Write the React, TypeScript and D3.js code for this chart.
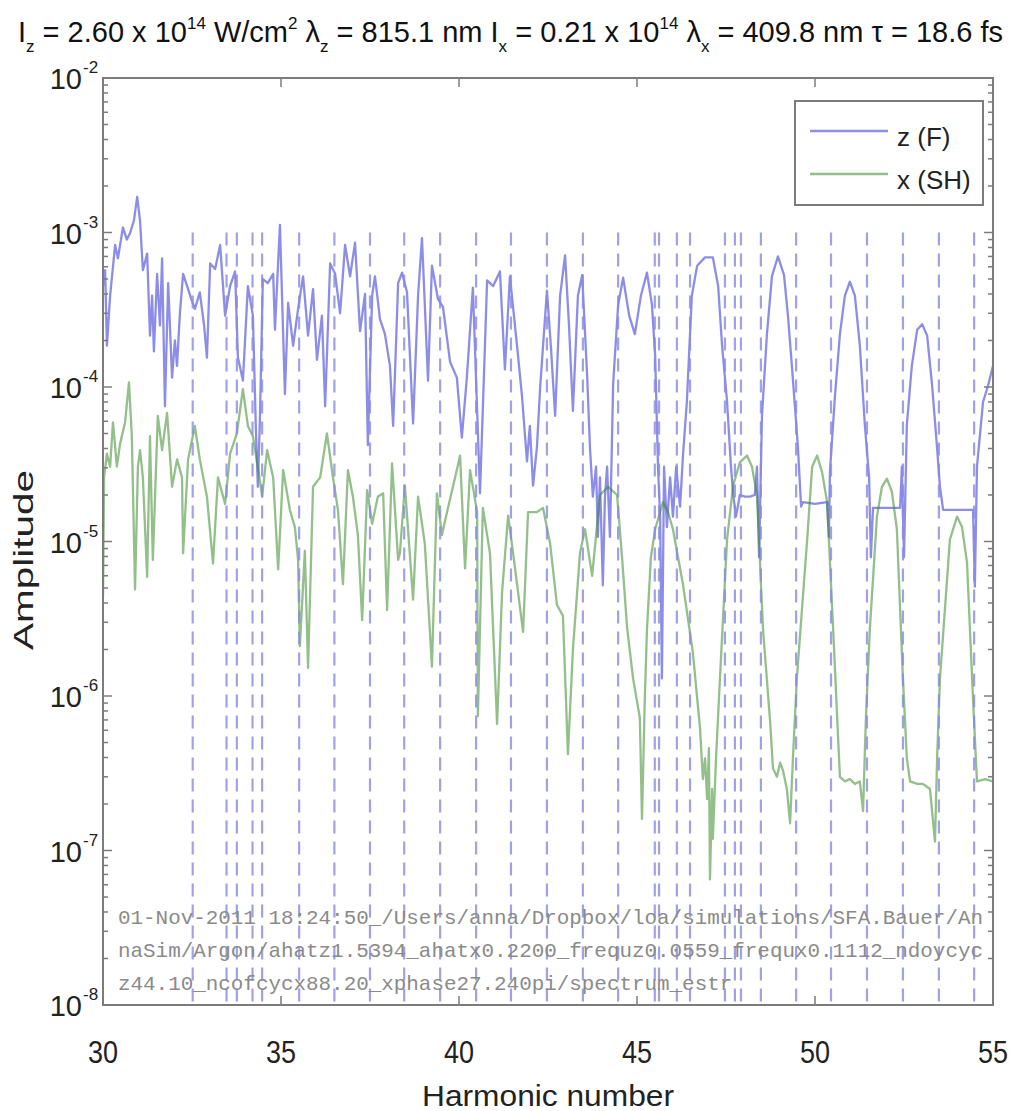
import React from "react";
import * as d3 from "d3";

// ---- data ----
const zHarm = [
  30.00,30.06,30.11,30.20,30.34,30.42,30.56,30.67,30.76,30.87,
  30.96,31.04,31.12,31.24,31.32,31.38,31.43,31.52,31.60,31.66,
  31.74,31.83,31.94,32.02,32.08,32.16,32.25,32.39,32.50,32.58,
  32.72,32.84,32.92,33.01,33.15,33.29,33.43,33.57,33.71,33.79,
  33.93,34.07,34.21,34.30,34.35,34.41,34.49,34.63,34.78,34.83,
  34.97,35.11,35.20,35.34,35.48,35.62,35.76,35.90,36.01,36.15,
  36.24,36.38,36.52,36.66,36.80,36.94,37.08,37.22,37.36,37.44,
  37.56,37.64,37.78,37.92,38.06,38.15,38.29,38.40,38.54,38.71,
  38.85,38.96,39.13,39.24,39.41,39.55,39.75,39.94,40.08,40.22,
  40.39,40.59,40.79,40.96,41.15,41.29,41.43,41.63,41.77,41.91,
  41.99,42.08,42.19,42.28,42.47,42.58,42.70,42.84,42.98,43.09,
  43.20,43.34,43.46,43.60,43.68,43.76,43.85,43.90,43.96,44.04,
  44.10,44.16,44.24,44.33,44.47,44.61,44.78,44.94,45.11,45.28,
  45.42,45.51,45.59,45.65,45.70,45.76,45.84,45.93,46.01,46.10,
  46.21,46.29,46.40,46.54,46.69,46.91,47.13,47.28,47.39,47.53,
  47.64,47.70,47.78,47.89,48.03,48.17,48.31,48.37,48.43,48.51,
  48.65,48.79,48.96,49.13,49.24,49.38,49.52,49.61,49.66,50.00,
  50.34,50.39,50.42,50.56,50.70,50.84,50.98,51.12,51.26,51.40,
  51.52,51.57,51.63,51.97,52.39,52.44,52.50,52.58,52.72,52.87,
  53.01,53.15,53.29,53.43,53.51,53.60,53.93,54.21,54.44,54.49,
  54.55,54.72,54.86,55.00,
];
const zAmp = [
  4.5e-4,5.7e-4,1.85e-4,3.9e-4,8.3e-4,6.8e-4,1.08e-3,9.0e-4,9.9e-4,1.2e-3,
  1.7e-3,1.2e-3,5.7e-4,7.3e-4,2.15e-4,3.9e-4,1.7e-4,5.4e-4,2.5e-4,6.8e-4,
  7.5e-5,4.7e-4,1.15e-4,2.0e-4,1.37e-4,3.0e-4,5.4e-4,4.3e-4,3.6e-4,3.2e-4,
  4.1e-4,2.5e-4,1.55e-4,6.3e-4,5.8e-4,8.3e-4,2.9e-4,4.5e-4,5.6e-4,1.55e-4,
  1.1e-4,4.5e-4,2.9e-4,4.8e-5,2.26e-5,6.5e-5,5.0e-4,4.7e-4,5.4e-4,2.35e-4,
  1.12e-3,9.0e-5,3.5e-4,1.85e-4,3.2e-4,5.2e-4,2.15e-4,4.3e-4,1.5e-4,2.9e-4,
  7.5e-5,6.3e-4,5.4e-4,3.0e-4,8.3e-4,5.2e-4,8.6e-4,2.3e-4,4.0e-4,4.2e-5,
  3.9e-4,5.2e-4,2.75e-4,2.2e-4,1.37e-4,5.6e-5,4.7e-4,5.5e-4,4.1e-4,5.8e-5,
  3.9e-4,9.2e-4,1.1e-4,6.1e-4,3.7e-4,3.3e-4,1.45e-4,1.15e-4,4.7e-5,1.15e-4,
  4.4e-4,2.05e-5,4.9e-4,4.5e-4,5.6e-4,1.3e-4,5.2e-4,1.85e-4,8.7e-5,3.3e-5,
  5.6e-5,2.3e-5,4.1e-5,1.0e-4,4.2e-4,1.85e-4,6.5e-5,3.9e-4,7.1e-4,2.5e-4,
  7.0e-5,3.9e-4,5.3e-4,1.18e-4,4.0e-5,1.95e-5,3.05e-5,1.07e-5,2.6e-5,5.2e-6,
  1.95e-5,3.05e-5,1.07e-5,1.05e-4,3.4e-4,5.1e-4,2.9e-4,2.2e-4,3.9e-4,5.5e-4,
  3.4e-4,1.6e-4,3.05e-5,1.45e-5,1.3e-6,3.05e-5,1.24e-5,2.6e-5,1.45e-5,3.05e-5,
  1.68e-5,3.55e-5,8.0e-5,3.9e-4,6.1e-4,6.9e-4,6.9e-4,4.5e-4,1.85e-4,8.0e-5,
  3.05e-5,2.05e-5,1.45e-5,2.0e-5,1.95e-5,1.95e-5,2.0e-5,3.05e-5,7.9e-6,6.5e-5,
  2.2e-4,5.2e-4,7.0e-4,5.3e-4,2.9e-4,1.12e-4,4.1e-5,1.68e-5,1.8e-5,1.75e-5,
  1.8e-5,1.07e-5,2.85e-5,8.7e-5,2.2e-4,3.9e-4,4.8e-4,3.9e-4,1.85e-4,5.7e-5,
  2.6e-5,7.9e-6,1.65e-5,1.65e-5,1.65e-5,3.05e-5,7.9e-6,5.7e-5,1.37e-4,2.35e-4,
  2.55e-4,2.15e-4,1.02e-4,4.0e-5,2.26e-5,1.6e-5,1.6e-5,1.6e-5,1.6e-5,5.1e-6,
  3.05e-5,8.0e-5,1.02e-4,1.37e-4,
];

const xHarm = [
  30.00,30.03,30.11,30.20,30.28,30.39,30.48,30.62,30.73,30.81,
  30.90,30.98,31.04,31.12,31.24,31.32,31.40,31.54,31.66,31.80,
  31.94,32.08,32.22,32.25,32.39,32.58,32.72,32.92,33.09,33.23,
  33.43,33.57,33.76,33.93,34.07,34.21,34.35,34.47,34.61,34.78,
  34.92,35.06,35.25,35.39,35.48,35.53,35.67,35.76,35.90,36.10,
  36.29,36.46,36.60,36.74,36.88,37.02,37.16,37.28,37.42,37.56,
  37.72,37.87,37.98,38.12,38.29,38.34,38.48,38.71,38.85,39.04,
  39.24,39.38,39.52,39.69,39.89,40.03,40.17,40.31,40.51,40.53,
  40.67,40.87,41.07,41.21,41.38,41.52,41.80,41.94,42.19,42.36,
  42.56,42.75,42.92,43.06,43.20,43.40,43.54,43.74,43.96,44.19,
  44.44,44.58,44.72,44.89,45.08,45.14,45.22,45.28,45.39,45.51,
  45.73,45.87,46.01,46.29,46.57,46.77,46.85,46.91,46.97,47.02,
  47.05,47.11,47.13,47.22,47.33,47.53,47.70,47.89,48.09,48.23,
  48.37,48.54,48.74,48.82,48.93,49.02,49.10,49.21,49.30,49.38,
  49.49,49.78,49.92,50.06,50.20,50.34,50.51,50.65,50.70,50.84,
  50.98,51.12,51.26,51.35,51.43,51.54,51.74,51.88,52.02,52.16,
  52.30,52.47,52.58,52.67,52.87,53.03,53.23,53.37,53.43,53.51,
  53.79,53.99,54.13,54.27,54.44,54.55,54.78,55.00,
];
const xAmp = [
  4.35e-6,2.6e-5,3.7e-5,3.05e-5,5.9e-5,3.05e-5,4.3e-5,5.9e-5,1.07e-4,4.8e-5,
  4.9e-6,3.05e-5,3.9e-5,2.6e-5,5.9e-6,4.8e-5,7.6e-6,6.5e-5,3.9e-5,6.8e-5,
  2.26e-5,3.4e-5,2.6e-5,8.4e-6,3.4e-5,5.6e-5,3.4e-5,1.95e-5,7.2e-6,2.6e-5,
  1.75e-5,3.7e-5,5.0e-5,9.7e-5,5.6e-5,4.8e-5,3.05e-5,1.95e-5,3.9e-5,2.6e-5,
  6.6e-6,2.9e-5,1.6e-5,1.24e-5,7.6e-6,2.1e-6,8.7e-6,1.52e-6,2.26e-5,2.6e-5,
  5.0e-5,2.6e-5,1.6e-5,5.3e-6,2.9e-5,1.95e-5,1.1e-5,3.1e-6,2.15e-5,1.3e-5,
  1.95e-5,2.05e-5,3.6e-6,3.2e-5,7.6e-6,8.4e-6,2.3e-5,4.2e-6,1.95e-5,9.7e-6,
  1.55e-6,2.05e-5,1.1e-5,1.65e-5,2.6e-5,3.6e-5,6.7e-6,2.9e-5,1.55e-5,7.4e-7,
  1.65e-5,8.4e-6,6.6e-7,4.7e-6,1.47e-5,8.4e-6,2.6e-6,1.55e-5,1.55e-5,1.65e-5,
  9.7e-6,3.9e-6,3.3e-6,4.2e-7,2.0e-6,8.5e-6,1.2e-5,6.0e-6,2.0e-5,2.26e-5,
  2.0e-5,7.9e-6,2.8e-6,1.3e-6,7.2e-7,1.6e-7,9.7e-7,2.7e-6,7.9e-6,1.2e-5,
  1.8e-5,1.55e-5,1.2e-5,5.3e-6,1.9e-6,6.2e-7,2.9e-7,3.95e-7,2.15e-7,4.6e-7,
  6.5e-8,2.5e-7,1.19e-7,3.95e-7,1.3e-6,1.03e-5,2.3e-5,3.25e-5,3.6e-5,3.05e-5,
  2.0e-5,2.7e-6,6.8e-7,3.4e-7,3.0e-7,3.7e-7,3.3e-7,2.5e-7,1.5e-7,3.95e-7,
  1.3e-6,1.03e-5,3.05e-5,3.6e-5,2.8e-5,1.8e-5,2.7e-6,5.3e-7,3.0e-7,2.8e-7,
  2.9e-7,2.7e-7,2.8e-7,1.8e-7,7.2e-7,2.7e-6,1.45e-5,2.26e-5,2.55e-5,2.1e-5,
  1.2e-5,1.3e-6,3.95e-7,2.8e-7,2.7e-7,2.7e-7,2.5e-7,1.14e-7,3.95e-7,1.3e-6,
  1.03e-5,1.45e-5,1.24e-5,7.3e-6,9.4e-7,2.8e-7,2.9e-7,2.8e-7,
];

const dashHarm = [
  32.52,33.47,33.76,34.20,34.47,35.51,36.50,37.50,38.46,39.47,40.48,41.46,42.47,
  43.48,44.47,45.50,45.62,46.12,46.49,47.47,47.75,47.92,48.48,49.47,50.45,51.46,
  52.47,53.48,54.47,
];
const dashTop = 1e-3;

const xTickValues = [30, 35, 40, 45, 50, 55];
const yTickExponents = [-2, -3, -4, -5, -6, -7, -8];
const seriesNames = ["z (F)", "x (SH)"];
const noteLines = [
  "01-Nov-2011 18:24:50_/Users/anna/Dropbox/loa/simulations/SFA.Bauer/An",
  "naSim/Argon/ahatz1.5394_ahatx0.2200_frequz0.0559_frequx0.1112_ndoycyc",
  "z44.10_ncofcycx88.20_xphase27.240pi/spectrum_estr",
];

const SANS = "'Liberation Sans', Arial, Helvetica, sans-serif";
const MONO = "'Liberation Mono', 'Courier New', monospace";

export default function App() {
  const W = 1011, H = 1111;
  const L = 103, R = 993, T = 78, B = 1005;
  const x = d3.scaleLinear().domain([30, 55]).range([L, R]);
  const y = d3.scaleLog().domain([1e-8, 1e-2]).range([B, T]);

  const mkLine = d3
    .line<[number, number]>()
    .x((d) => x(d[0]))
    .y((d) => y(d[1]));

  const zPts: [number, number][] = zHarm
    .slice(0, Math.min(zHarm.length, zAmp.length))
    .map((h, i) => [h, zAmp[i]]);
  const xPts: [number, number][] = xHarm
    .slice(0, Math.min(xHarm.length, xAmp.length))
    .map((h, i) => [h, xAmp[i]]);

  const minorTicks: { v: number; major: boolean }[] = [];
  for (let e = -8; e <= -2; e++) {
    minorTicks.push({ v: Math.pow(10, e), major: true });
    if (e < -2) {
      for (let m = 2; m <= 9; m++) minorTicks.push({ v: m * Math.pow(10, e), major: false });
    }
  }

  const axisColor = "#7c7c7c";
  const blue = "#3030d4";
  const green = "#3a8a2a";
  const noteChars = noteLines[0].length;
  const charW = 865 / noteChars;

  return (
    <div style={{ position: "absolute", left: 0, top: 0 }}>
      <svg width={W} height={H} viewBox={`0 0 ${W} ${H}`} style={{ display: "block", background: "#fff" }}>
        <defs>
          <clipPath id="plotclip">
            <rect x={L} y={T} width={R - L} height={B - T} />
          </clipPath>
        </defs>
        <rect x={0} y={0} width={W} height={H} fill="#fff" />

        {/* title */}
        <text x={18} y={42} fontFamily={SANS} fontSize={29} fill="#111" textLength={985} lengthAdjust="spacingAndGlyphs">
          <tspan>I</tspan>
          <tspan dy={10} fontSize={17}>z</tspan>
          <tspan dy={-10}> = 2.60 x 10</tspan>
          <tspan dy={-13} fontSize={17}>14</tspan>
          <tspan dy={13}> W/cm</tspan>
          <tspan dy={-13} fontSize={17}>2</tspan>
          <tspan dy={13}> λ</tspan>
          <tspan dy={10} fontSize={17}>z</tspan>
          <tspan dy={-10}> = 815.1 nm I</tspan>
          <tspan dy={10} fontSize={17}>x</tspan>
          <tspan dy={-10}> = 0.21 x 10</tspan>
          <tspan dy={-13} fontSize={17}>14</tspan>
          <tspan dy={13}> λ</tspan>
          <tspan dy={10} fontSize={17}>x</tspan>
          <tspan dy={-10}> = 409.8 nm τ = 18.6 fs</tspan>
        </text>

        {/* curves */}
        <g clipPath="url(#plotclip)">
          <path d={mkLine(zPts) || ""} fill="none" stroke={blue} strokeWidth={2.3} strokeOpacity={0.55} strokeLinejoin="round" />
          <path d={mkLine(xPts) || ""} fill="none" stroke={green} strokeWidth={2.3} strokeOpacity={0.55} strokeLinejoin="round" />
          {dashHarm.map((h, i) => (
            <line key={i} x1={x(h)} x2={x(h)} y1={y(dashTop)} y2={B} stroke="#8a8ae4" strokeOpacity={0.8} strokeWidth={2.2} strokeDasharray="13 8" />
          ))}
        </g>

        {/* annotation */}
        {noteLines.map((s, i) => (
          <text key={i} x={118} y={924 + i * 33} fontFamily={MONO} fontSize={21} fill="#8a8a8a"
            textLength={charW * s.length} lengthAdjust="spacingAndGlyphs">
            {s}
          </text>
        ))}

        {/* axes box */}
        <rect x={L} y={T} width={R - L} height={B - T} fill="none" stroke={axisColor} strokeWidth={2} />

        {/* y ticks */}
        {minorTicks.map((t, i) => {
          const yy = y(t.v);
          const len = t.major ? 9 : 5;
          return (
            <g key={i}>
              <line x1={L} x2={L + len} y1={yy} y2={yy} stroke={axisColor} strokeWidth={1.5} />
              <line x1={R} x2={R - len} y1={yy} y2={yy} stroke={axisColor} strokeWidth={1.5} />
            </g>
          );
        })}
        {yTickExponents.map((e) => {
          const yy = y(Math.pow(10, e));
          return (
            <g key={e}>
              <text x={82} y={yy + 11} textAnchor="end" fontFamily={SANS} fontSize={29} fill="#222">10</text>
              <text x={83} y={yy - 5} fontFamily={SANS} fontSize={17} fill="#222">{String(e)}</text>
            </g>
          );
        })}

        {/* x ticks */}
        {xTickValues.map((v) => (
          <g key={v}>
            <line x1={x(v)} x2={x(v)} y1={B} y2={B - 9} stroke={axisColor} strokeWidth={1.5} />
            <line x1={x(v)} x2={x(v)} y1={T} y2={T + 9} stroke={axisColor} strokeWidth={1.5} />
            <text x={x(v) - 15} y={1063} fontFamily={SANS} fontSize={31} fill="#222" textLength={30} lengthAdjust="spacingAndGlyphs">
              {String(v)}
            </text>
          </g>
        ))}

        {/* axis labels */}
        <text x={422} y={1106} fontFamily={SANS} fontSize={30} fill="#222" textLength={252} lengthAdjust="spacingAndGlyphs">
          Harmonic number
        </text>
        <text transform="translate(33,650) rotate(-90)" fontFamily={SANS} fontSize={28} fill="#222" textLength={180} lengthAdjust="spacingAndGlyphs">
          Amplitude
        </text>

        {/* legend */}
        <g>
          <rect x={795} y={101} width={188} height={104} fill="#fff" stroke={axisColor} strokeWidth={2} />
          <line x1={810} x2={888} y1={131} y2={131} stroke={blue} strokeOpacity={0.55} strokeWidth={2.3} />
          <line x1={810} x2={888} y1={174} y2={174} stroke={green} strokeOpacity={0.55} strokeWidth={2.3} />
          <text x={897} y={146} fontFamily={SANS} fontSize={26} fill="#222">{seriesNames[0]}</text>
          <text x={897} y={189} fontFamily={SANS} fontSize={26} fill="#222">{seriesNames[1]}</text>
        </g>
      </svg>
    </div>
  );
}
